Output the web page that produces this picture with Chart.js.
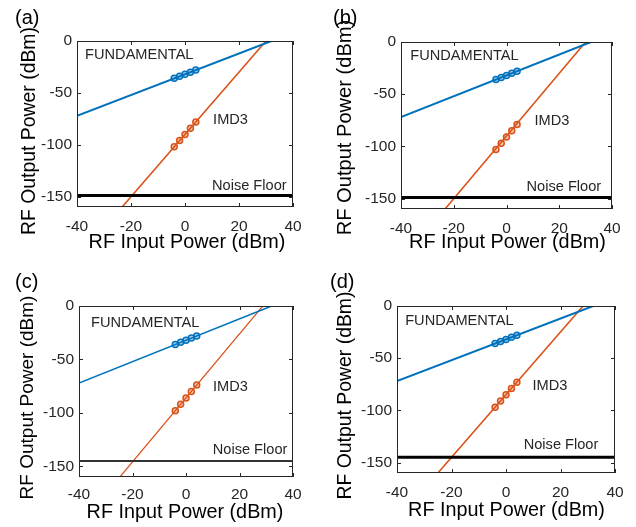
<!DOCTYPE html>
<html>
<head>
<meta charset="utf-8">
<script src="https://cdn.jsdelivr.net/npm/chart.js@4.4.1/dist/chart.umd.min.js"></script>
<style>
  body { margin: 0; background: #fff; }
  #wrap { position: relative; width: 636px; height: 527px; }
  .panel { position: absolute; }
</style>
</head>
<body>
<div id="wrap">
  <div class="panel" style="left:0;top:0;width:318px;height:264px"><canvas id="pa"></canvas></div>
  <div class="panel" style="left:318px;top:0;width:318px;height:264px"><canvas id="pb"></canvas></div>
  <div class="panel" style="left:0;top:264px;width:318px;height:263px"><canvas id="pc"></canvas></div>
  <div class="panel" style="left:318px;top:264px;width:318px;height:263px"><canvas id="pd"></canvas></div>
</div>
<script>
// measured input tones (dBm)
const inputPower = [-4, -2, 0, 2, 4];

// fundamental output (dBm)
const fundA = [-36, -34, -32, -30, -28];
const fundB = [-36, -34, -32, -30, -28];
const fundC = [-36, -34, -32, -30, -28];
const fundD = [-36, -34, -32, -30, -28];

// third-order intermod output (dBm)
const imdA = [-102, -96, -90, -84, -78];
const imdB = [-103, -97, -91, -85, -79];
const imdC = [-98, -92, -86, -80, -74];
const imdD = [-97, -91, -85, -79, -73];

// fitted lines: [start, end]
const fundFitX = [-40, 32];
const fundFitY = [-72, 0];
const imdFitXA = [-23.3, 30];
const imdFitXB = [-23.3, 30];
const imdFitXC = [-24.7, 28.7];
const imdFitXD = [-25, 28.3];
const imdFitY = [-160, 0];

// noise floor (dBm)
const noiseFloor = [-149, -149, -145, -145];

const xTicks = [-40, -20, 0, 20, 40];
const yTicks = [-150, -100, -50, 0];

const BLUE = '#0072BD';
const ORANGE = '#D95319';
const FONT = '"Liberation Sans", Arial, sans-serif';

const pts = (xs, ys) => xs.map((x, i) => ({ x: x, y: ys[i] }));

const boxPlugin = {
  id: 'box',
  afterDraw(chart) {
    const { ctx, chartArea: a, scales } = chart;
    ctx.save();
    ctx.strokeStyle = '#262626';
    ctx.lineWidth = 1;
    ctx.strokeRect(a.left + 0.5, a.top + 0.5, a.right - a.left - 1, a.bottom - a.top - 1);
    ctx.beginPath();
    xTicks.forEach(v => {
      const px = Math.round(scales.x.getPixelForValue(v)) + 0.5;
      ctx.moveTo(px, a.bottom); ctx.lineTo(px, a.bottom - 4);
      ctx.moveTo(px, a.top); ctx.lineTo(px, a.top + 4);
    });
    yTicks.forEach(v => {
      const py = Math.round(scales.y.getPixelForValue(v)) + 0.5;
      ctx.moveTo(a.left, py); ctx.lineTo(a.left + 4, py);
      ctx.moveTo(a.right, py); ctx.lineTo(a.right - 4, py);
    });
    ctx.stroke();

    const p = chart.options.plugins.box;
    ctx.fillStyle = '#000';
    ctx.textBaseline = 'middle';

    // panel letter
    ctx.font = '20px ' + FONT;
    ctx.fillText(p.tag, p.tagX, 18);

    // axis titles
    ctx.textAlign = 'center';
    ctx.font = '19.8px ' + FONT;
    ctx.fillText('RF Input Power (dBm)', p.xt[0], p.xt[1]);
    ctx.save();
    ctx.translate(p.yt[0], p.yt[1]);
    ctx.rotate(-Math.PI / 2);
    ctx.font = p.yt[2] + 'px ' + FONT;
    ctx.fillText('RF Output Power (dBm)', 0, 0);
    ctx.restore();

    // text notes
    ctx.textAlign = 'left';
    ctx.fillStyle = '#262626';
    ctx.font = '14.6px ' + FONT;
    p.notes.forEach(n => {
      ctx.fillText(n.text, scales.x.getPixelForValue(n.x), scales.y.getPixelForValue(n.y));
    });
    ctx.restore();
  }
};

function makePanel(id, opt) {
  const ctx = document.getElementById(id)?.getContext('2d');
  if (!ctx) return;
  new Chart(ctx, {
    type: 'scatter',
    data: {
      datasets: [
        {
          data: pts([-40, 40], [opt.floor, opt.floor]),
          showLine: true, borderColor: opt.floorColor, borderWidth: opt.floorWidth,
          pointRadius: 0
        },
        {
          data: pts(fundFitX, fundFitY),
          showLine: true, borderColor: BLUE, borderWidth: opt.lineWidth, pointRadius: 0
        },
        {
          data: pts(opt.imdFitX, imdFitY),
          showLine: true, borderColor: ORANGE, borderWidth: opt.lineWidth * 0.8, pointRadius: 0
        },
        {
          data: pts(inputPower, opt.fund),
          pointRadius: 3, borderWidth: 1.5, borderColor: BLUE,
          backgroundColor: 'rgba(0,114,189,0.35)'
        },
        {
          data: pts(inputPower, opt.imd),
          pointRadius: 3, borderWidth: 1.5, borderColor: ORANGE,
          backgroundColor: 'rgba(217,83,25,0.35)'
        }
      ]
    },
    options: {
      responsive: true,
      maintainAspectRatio: false,
      animation: false,
      layout: { padding: { top: opt.top, right: opt.right, left: 0, bottom: 0 } },
      plugins: {
        legend: { display: false },
        tooltip: { enabled: false },
        box: { tag: opt.tag, tagX: opt.tagX, xt: opt.xt, yt: opt.yt, notes: opt.notes }
      },
      scales: {
        x: {
          type: 'linear', min: -40, max: 40,
          afterBuildTicks: s => { s.ticks = xTicks.map(v => ({ value: v })); },
          afterFit: s => { s.height = opt.h - opt.bottom; },
          grid: { display: false, drawTicks: false },
          border: { display: false },
          ticks: { color: '#262626', font: { family: FONT, size: 15.5 }, padding: opt.tickPad, maxRotation: 0,
                   callback: v => String(v) }
        },
        y: {
          type: 'linear', min: -160, max: 0,
          afterBuildTicks: s => { s.ticks = yTicks.map(v => ({ value: v })); },
          afterFit: s => { s.width = opt.left; },
          grid: { display: false, drawTicks: false },
          border: { display: false },
          ticks: { color: '#262626', font: { family: FONT, size: 15.5 }, padding: 5,
                   callback: v => String(v) }
        }
      }
    },
    plugins: [boxPlugin]
  });
}

window.addEventListener('DOMContentLoaded', () => {
  makePanel('pa', {
    tag: '(a)', tagX: 15, h: 264, left: 77, right: 25, top: 41, bottom: 207, tickPad: 10,
    xt: [187, 243], yt: [30, 131, 19.4],
    fund: fundA, imd: imdA, imdFitX: imdFitXA, floor: noiseFloor[0],
    floorColor: '#000', floorWidth: 3, lineWidth: 2,
    notes: [
      { text: 'FUNDAMENTAL', x: -37, y: -13.5 },
      { text: 'IMD3', x: 10.4, y: -76 },
      { text: 'Noise Floor', x: 10, y: -140 }
    ]
  });
  makePanel('pb', {
    tag: '(b)', tagX: 15, h: 264, left: 83, right: 24, top: 42, bottom: 209, tickPad: 10,
    xt: [189.5, 243], yt: [27, 127.5, 20.1],
    fund: fundB, imd: imdB, imdFitX: imdFitXB, floor: noiseFloor[1],
    floorColor: '#000', floorWidth: 3, lineWidth: 2,
    notes: [
      { text: 'FUNDAMENTAL', x: -36.5, y: -13 },
      { text: 'IMD3', x: 10.6, y: -76 },
      { text: 'Noise Floor', x: 7.6, y: -139 }
    ]
  });
  makePanel('pc', {
    tag: '(c)', tagX: 15, h: 263, left: 79, right: 25, top: 42, bottom: 213, tickPad: 8,
    xt: [185, 249], yt: [28, 133.5, 19],
    fund: fundC, imd: imdC, imdFitX: imdFitXC, floor: noiseFloor[2],
    floorColor: '#333', floorWidth: 2, lineWidth: 1.5,
    notes: [
      { text: 'FUNDAMENTAL', x: -35.5, y: -15.6 },
      { text: 'IMD3', x: 10.1, y: -75.5 },
      { text: 'Noise Floor', x: 10, y: -135 }
    ]
  });
  makePanel('pd', {
    tag: '(d)', tagX: 12, h: 263, left: 79, right: 21, top: 42, bottom: 209, tickPad: 10,
    xt: [188.5, 247], yt: [28, 131.5, 19.4],
    fund: fundD, imd: imdD, imdFitX: imdFitXD, floor: noiseFloor[3],
    floorColor: '#000', floorWidth: 3, lineWidth: 2,
    notes: [
      { text: 'FUNDAMENTAL', x: -37, y: -14.7 },
      { text: 'IMD3', x: 9.7, y: -76.2 },
      { text: 'Noise Floor', x: 6.5, y: -133 }
    ]
  });
});
</script>
</body>
</html>
